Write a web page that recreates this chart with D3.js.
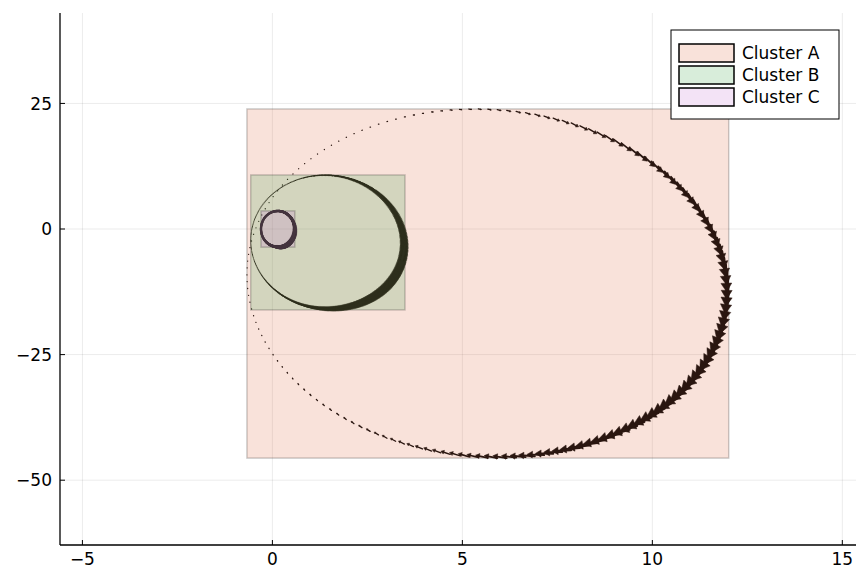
<!DOCTYPE html>
<html>
<head>
<meta charset="utf-8">
<script src="https://cdn.jsdelivr.net/npm/d3@7"></script>
<style>
  body { margin: 0; background: #fff; }
  svg { display: block; font-family: "DejaVu Sans", sans-serif; }
</style>
</head>
<body>
<svg id="chart" width="858" height="572"></svg>
<script>
// clusters, with their bounding boxes (data units)
var clusters = ["Cluster A", "Cluster B", "Cluster C"];
var boxX0 = [-0.67, -0.57, -0.30];
var boxX1 = [12.01, 3.49, 0.59];
var boxY0 = [-45.6, -16.1, -3.6];
var boxY1 = [23.9, 10.76, 3.6];
// orbit tilt (x/y correlation of each loop) and arrows drawn on it
var orbitTilt = [-0.05, -0.03, 0.0];
var arrowCount = [160, 360, 220];

var xTicks = [-5, 0, 5, 10, 15];
var yTicks = [-50, -25, 0, 25];
var xLimits = [-5.59, 15.36];
var yLimits = [-62.9, 43.0];

// styles
var fillColors = ["#f9e2da", "#d8edda", "#f3e3f6"];
var seriesColors = ["#e36f47", "#3ea44e", "#c371d2"];
var arrowColors = ["#2a1610", "#2e2f1d", "#45353f"];
var arrowLen = [30, 24, 13];
var arrowWidth = [2.6, 2.2, 2.2];
var arrowMinWidth = [1.3, 1.1, 2.4];

var svg = d3.select("#chart"),
	plot = {left: 60, right: 856, top: 13, bottom: 545};

var x = d3.scaleLinear().domain(xLimits).range([plot.left, plot.right]),
	y = d3.scaleLinear().domain(yLimits).range([plot.bottom, plot.top]);

var fmt = d3.format("d");

// grid
var grid = svg.append("g").attr("class", "grid");
grid.selectAll(".gx").data(xTicks).enter().append("line")
	.attr("x1", function(d) { return x(d); }).attr("x2", function(d) { return x(d); })
	.attr("y1", plot.top).attr("y2", plot.bottom)
	.attr("stroke", "#000").attr("stroke-opacity", 0.1).attr("stroke-width", 0.8);
grid.selectAll(".gy").data(yTicks).enter().append("line")
	.attr("y1", function(d) { return y(d); }).attr("y2", function(d) { return y(d); })
	.attr("x1", plot.left).attr("x2", plot.right)
	.attr("stroke", "#000").attr("stroke-opacity", 0.1).attr("stroke-width", 0.8);

var layer = svg.append("g");

clusters.forEach(function(name, i) {
	var cx = (boxX0[i] + boxX1[i]) / 2,
		cy = (boxY0[i] + boxY1[i]) / 2,
		rx = (boxX1[i] - boxX0[i]) / 2,
		ry = (boxY1[i] - boxY0[i]) / 2,
		rho = orbitTilt[i];

	// bounding box
	layer.append("rect")
		.attr("x", x(boxX0[i])).attr("y", y(boxY1[i]))
		.attr("width", x(boxX1[i]) - x(boxX0[i]))
		.attr("height", y(boxY0[i]) - y(boxY1[i]))
		.attr("fill", seriesColors[i]).attr("fill-opacity", 0.2)
		.attr("stroke", "#000").attr("stroke-opacity", 0.2).attr("stroke-width", 1.5);

	function at(t) {
		return [x(cx + rx * Math.cos(t)),
			y(cy + ry * (rho * Math.cos(t) + Math.sqrt(1 - rho * rho) * Math.sin(t)))];
	}

	var c = [x(cx), y(cy)],
		n = arrowCount[i],
		g = layer.append("g").attr("fill", arrowColors[i]).attr("stroke", arrowColors[i]),
		tilt = -10 * Math.PI / 180; // arrows lean slightly inwards

	d3.range(n).forEach(function(k) {
		var t = 2 * Math.PI * k / n,
			p = at(t), q = at(t - 0.01);
		var ux = q[0] - p[0], uy = q[1] - p[1], ul = Math.hypot(ux, uy);
		ux /= ul; uy /= ul;
		// outward normal
		var nx = -uy, ny = ux;
		if (nx * (p[0] - c[0]) + ny * (p[1] - c[1]) < 0) { nx = -nx; ny = -ny; }
		var dx = Math.cos(tilt) * ux + Math.sin(tilt) * nx,
			dy = Math.cos(tilt) * uy + Math.sin(tilt) * ny;
		var m = Math.pow((1 + Math.cos(t + 0.3)) / 2, 2),
			L = m * arrowLen[i];
		var tip = [p[0] + dx * L, p[1] + dy * L],
			h = L * 0.32, w = L * 0.2;
		var b = [tip[0] - dx * h, tip[1] - dy * h];
		g.append("path")
			.attr("d", "M" + p[0] + "," + p[1] + "L" + b[0] + "," + b[1])
			.attr("fill", "none")
			.attr("stroke-width", Math.max(arrowMinWidth[i], arrowWidth[i] * Math.sqrt(m)))
			.attr("stroke-linecap", "round");
		if (L > 1)
			g.append("path")
				.attr("d", "M" + tip[0] + "," + tip[1] +
					"L" + (b[0] - dy * w) + "," + (b[1] + dx * w) +
					"L" + (b[0] + dy * w) + "," + (b[1] - dx * w) + "Z")
				.attr("stroke-width", 0.5);
	});
});

// axes
var axes = svg.append("g");
axes.append("line").attr("x1", plot.left).attr("x2", plot.left)
	.attr("y1", plot.top).attr("y2", plot.bottom).attr("stroke", "#000").attr("stroke-width", 1.3);
axes.append("line").attr("x1", plot.left).attr("x2", plot.right)
	.attr("y1", plot.bottom).attr("y2", plot.bottom).attr("stroke", "#000").attr("stroke-width", 1.3);

xTicks.forEach(function(d) {
	axes.append("line").attr("x1", x(d)).attr("x2", x(d))
		.attr("y1", plot.bottom).attr("y2", plot.bottom - 5).attr("stroke", "#000");
	axes.append("text").attr("x", x(d)).attr("y", plot.bottom + 20)
		.attr("text-anchor", "middle").attr("font-size", 17).text(fmt(d));
});
yTicks.forEach(function(d) {
	axes.append("line").attr("x1", plot.left).attr("x2", plot.left + 5)
		.attr("y1", y(d)).attr("y2", y(d)).attr("stroke", "#000");
	axes.append("text").attr("x", plot.left - 8).attr("y", y(d)).attr("dy", "0.36em")
		.attr("text-anchor", "end").attr("font-size", 17).text(fmt(d));
});

// legend
var legend = svg.append("g").attr("transform", "translate(671,30)");
legend.append("rect").attr("width", 168).attr("height", 89)
	.attr("fill", "#fff").attr("stroke", "#000").attr("stroke-width", 1);
var item = legend.selectAll(".item").data(clusters).enter().append("g")
	.attr("transform", function(d, i) { return "translate(8," + (14 + i * 22) + ")"; });
item.append("rect").attr("width", 55).attr("height", 18)
	.attr("fill", function(d, i) { return fillColors[i]; })
	.attr("stroke", "#000").attr("stroke-width", 1.5);
item.append("text").attr("x", 63).attr("y", 9).attr("dy", "0.36em")
	.attr("font-size", 17).text(function(d) { return d; });
</script>
</body>
</html>
